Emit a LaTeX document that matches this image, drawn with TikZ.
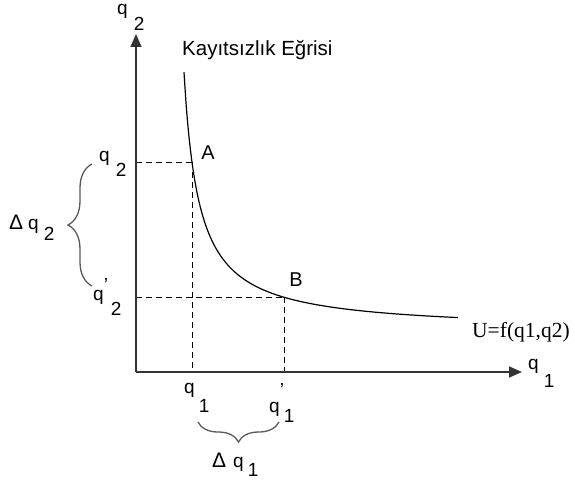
\documentclass[tikz,border=0pt]{standalone}
\usepackage{fontspec}
\setmainfont{Liberation Sans}
\newfontfamily\serifU{Liberation Serif}
\usetikzlibrary{arrows.meta,decorations.pathreplacing}
\newcommand{\qlab}[3]{q\hspace{#1pt}\raisebox{-#2pt}{#3}}
\newcommand{\qlabp}[4]{q\rlap{\raisebox{#4pt}{\symbol{39}}}\hspace{#1pt}\raisebox{-#2pt}{#3}}
\begin{document}
\begin{tikzpicture}[x=1pt,y=-1pt,
  axis/.style={draw=black!80,line width=1.6pt,-{Triangle[length=13pt,width=11pt]}},
  guide/.style={draw=black,line width=1pt,dash pattern=on 6pt off 4pt},
  curve/.style={draw=black,line width=1.2pt},
  bracestyle/.style={draw=black!65,line width=1.3pt,decorate,decoration={brace,amplitude=#1}},
  lab/.style={inner sep=0pt,anchor=base west,font=\fontsize{19}{19}\selectfont},
  pt/.style={inner sep=0pt,font=\fontsize{20}{20}\selectfont}]
\useasboundingbox (0,0) rectangle (575,481);
% points
\coordinate (O) at (136,372);
\coordinate (ytop) at (136,34);
\coordinate (xend) at (522,372);
\coordinate (A) at (192,162.3);
\coordinate (B) at (284,297.2);
\coordinate (Ay) at (136,162.3);
\coordinate (Ax) at (192,372);
\coordinate (By) at (136,297.2);
\coordinate (Bx) at (284,372);
% dashed guides
\draw[guide] (Ay) -- (A);
\draw[guide] (A) -- (Ax);
\draw[guide] (By) -- (B);
\draw[guide] (B) -- (Bx);
% axes
\draw[axis] (O) -- (ytop);
\draw[axis] (O) -- (xend);
% indifference curve
\draw[curve] plot[domain=184:458,samples=120,smooth] (\x,{331-3881/(\x-169)});
% labels
\node[lab] (q2top) at (117,15) {\qlab{6}{16}{2}};
\node[lab] (q1end) at (528,369) {\qlab{5}{18}{1}};
\node[lab] (q2A) at (99,161) {\qlab{6}{15}{2}};
\node[lab] (q2B) at (93,300) {\qlabp{7}{15}{2}{9}};
\node[lab] (q1A) at (184,393) {\qlab{4}{19}{1}};
\node[lab] (q1B) at (269,412) {\qlabp{4}{10}{1}{16}};
\node[lab] (dq2) at (9,229) {\fontsize{21}{21}\selectfont Δ\hspace{5pt}\fontsize{19}{19}\selectfont\qlab{5}{11}{2}};
\node[lab] (dq1) at (212,467) {\fontsize{21}{21}\selectfont Δ\hspace{7pt}\fontsize{19}{19}\selectfont\qlab{4}{9}{1}};
\node[pt] (Alab) at (208,152.5) {A};
\node[pt] (Blab) at (296,280) {B};
\node[inner sep=0pt,anchor=base west,font=\fontsize{20.5}{20.5}\selectfont] (title) at (182,56) {Kayıtsızlık Eğrisi};
\node[inner sep=0pt,anchor=base west,font=\serifU\fontsize{21.5}{21.5}\selectfont] (ulab) at (472,337) {U=f(q1,q2)};
% braces
\draw[bracestyle=24pt] (92,286) -- (92,164);
\draw[bracestyle=20pt] (279,422) -- (198,422);
\end{tikzpicture}
\end{document}
